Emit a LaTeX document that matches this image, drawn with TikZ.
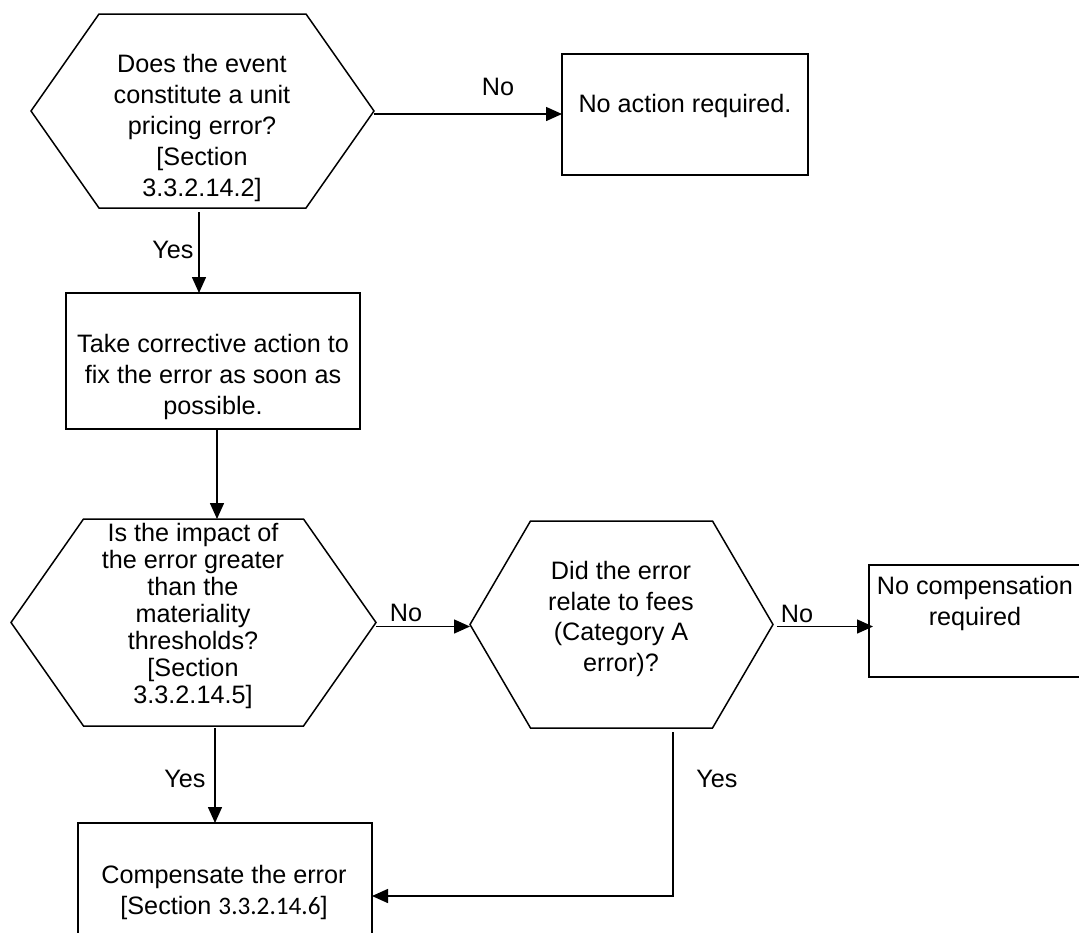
\documentclass[tikz,border=0pt]{standalone}
\usepackage{fontspec}
\setmainfont{Liberation Sans}
\newfontfamily\numfont{Carlito}
\usetikzlibrary{arrows.meta}

% hexagon drawn around a (borderless) node, with the given corner inset
\newcommand{\hexagonround}[2]{%
  \draw[hexline] (#1.west) -- ([xshift=#2]#1.north west) -- ([xshift=-#2]#1.north east)
    -- (#1.east) -- ([xshift=-#2]#1.south east) -- ([xshift=#2]#1.south west) -- cycle;}

\begin{document}
\begin{tikzpicture}[x=1pt, y=-1pt,
  every node/.style={font=\fontsize{25.2}{31}\selectfont},
  frame/.style={draw, line width=1.5pt, inner sep=0pt, outer sep=0pt},
  hexarea/.style={inner sep=0pt, outer sep=0pt},
  hexline/.style={line width=1.5pt, line join=miter},
  txt/.style={align=center, inner sep=0pt},
  lbl/.style={inner sep=0pt},
  arr/.style={-{Triangle[length=16pt,width=14pt]}, line width=1.5pt}]

\useasboundingbox (0,0) rectangle (1079,932);

% decision 1
\node[hexarea, minimum width=343pt, minimum height=194pt] (q1) at (202.5,111) {};
\hexagonround{q1}{68pt}
\node[txt] (q1t) at (202,128) {Does the event\\constitute a unit\\pricing error?\\{[}Section\\3.3.2.14.2{]}};

% no action
\node[frame, minimum width=246pt, minimum height=121pt] (noact) at (685,114.5) {};
\node[txt] (noactt) at (685,106) {No action required.};

% corrective action
\node[frame, minimum width=294pt, minimum height=136pt] (act) at (213,361) {};
\node[txt] (actt) at (213,377) {Take corrective action to\\fix the error as soon as\\possible.};

% decision 2
\node[hexarea, minimum width=365pt, minimum height=207pt] (q2) at (193.5,622.5) {};
\hexagonround{q2}{72.5pt}
\node[txt, font=\fontsize{25.2}{27}\selectfont] (q2t) at (193,616) {Is the impact of\\the error greater\\than the\\materiality\\thresholds?\\{[}Section\\3.3.2.14.5{]}};

% decision 3
\node[hexarea, minimum width=303pt, minimum height=207pt] (q3) at (621.5,624.5) {};
\hexagonround{q3}{60.5pt}
\node[txt, font=\fontsize{25.2}{30.5}\selectfont] (q3t) at (621,619) {Did the error\\relate to fees\\(Category A\\error)?};

% no compensation
\node[frame, minimum width=214pt, minimum height=112pt] (nocomp) at (976,621) {};
\node[txt] (nocompt) at (975,603) {No compensation\\required};

% compensate
\node[frame, minimum width=294pt, minimum height=137pt] (comp) at (225,891.5) {};
\node[txt] (compt) at (224,892) {Compensate the error\\{[}Section {\numfont 3.3.2.14.6}]};

% connectors
\draw[arr] ([xshift=-3.5pt,yshift=-4pt]q1.south) -- ([xshift=-3.5pt]q1.south |- act.north);
\draw[arr] ([yshift=-3pt]q1.east) -- ([yshift=-3pt]q1.east -| noact.west);
\draw[arr] ([xshift=4pt]act.south) -- ([xshift=4pt]act.south |- q2.north);
\draw[arr] ([yshift=-4pt]q2.east) -- ([yshift=-4pt]q2.east -| q3.west);
\draw[arr] ([xshift=4pt,yshift=-2pt]q3.east) -- ([xshift=4pt,yshift=-2pt]q3.east -| nocomp.west);
\draw[arr] ([xshift=21.5pt,yshift=-2pt]q2.south) -- ([xshift=21.5pt]q2.south |- comp.north);
\coordinate (yesdrop) at ([xshift=51.5pt,yshift=-4pt]q3.south);
\draw[arr] (yesdrop) |- ([yshift=-4.5pt]comp.east);

% connector labels
\node[lbl] (l1) at (498,87) {No};
\node[lbl] (l2) at (173,250) {Yes};
\node[lbl] (l3) at (406,613) {No};
\node[lbl] (l4) at (797,614) {No};
\node[lbl] (l5) at (185,779) {Yes};
\node[lbl] (l6) at (717,779) {Yes};
\end{tikzpicture}
\end{document}
